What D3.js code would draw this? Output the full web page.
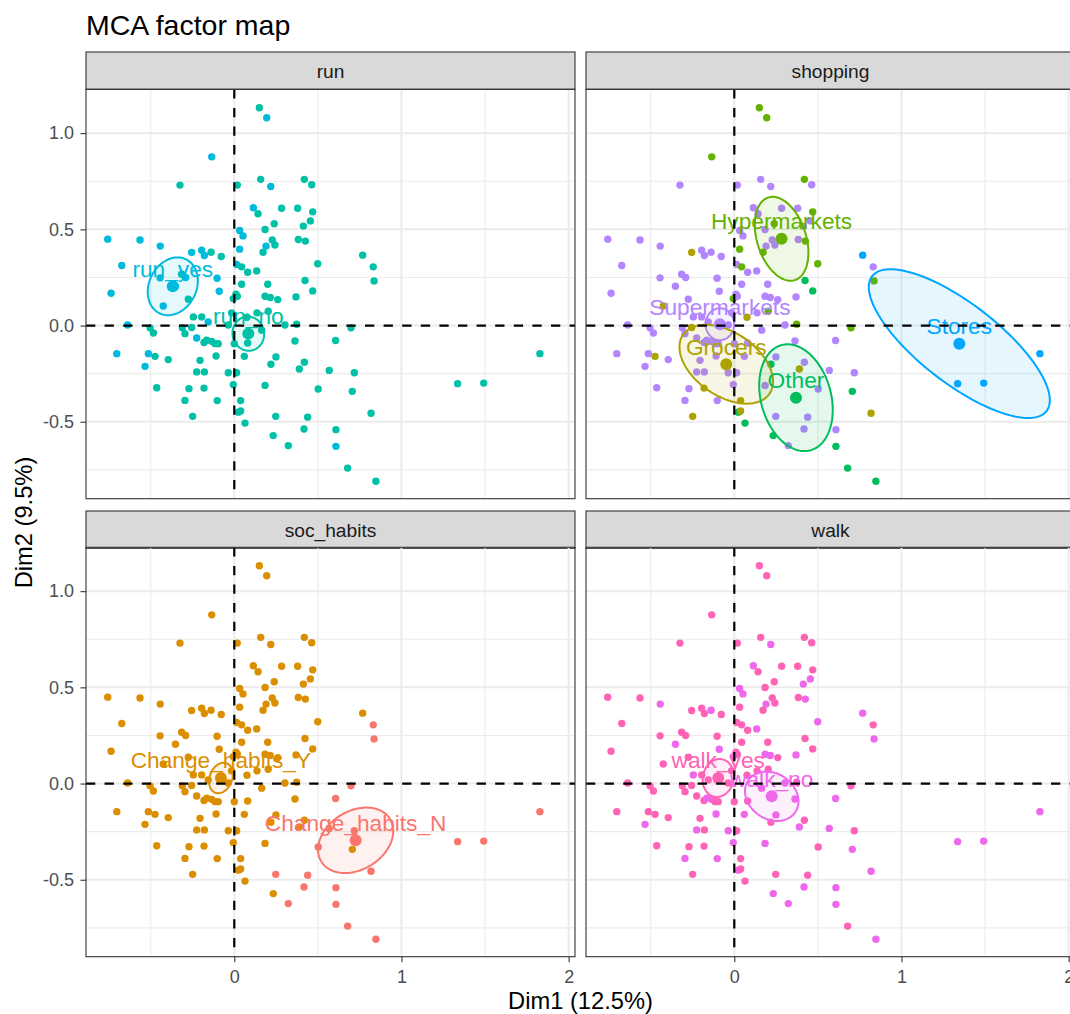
<!DOCTYPE html>
<html>
<head>
<meta charset="utf-8">
<script src="https://cdn.jsdelivr.net/npm/d3@7"></script>
<style>
  body { margin: 0; background: #fff; }
  text { font-family: "Liberation Sans", Arial, Helvetica, sans-serif; }
</style>
</head>
<body>
<div id="chart"></div>
<script>
// individual coordinates (Dim1, Dim2)
const dim1 = [
  0.150, 0.194, -0.135, -0.325, 0.018, 0.158, 0.218, 0.419, 0.463, 0.114,
  0.142, 0.283, 0.379, 0.469, 0.239, 0.184, 0.413, 0.455, -0.757, -0.564,
  -0.443, -0.255, -0.195, -0.179, -0.139, -0.078, 0.032, 0.052, 0.227, 0.243,
  0.190, 0.172, 0.383, 0.425, 0.032, 0.499, -0.673, 0.014, 0.044, 0.080,
  0.134, -0.315, -0.444, -0.291, -0.103, 0.044, 0.200, 0.423, 0.469, -0.737,
  -0.090, -0.352, 0.010, -0.425, -0.275, -0.006, 0.018, 0.184, 0.215, 0.260,
  0.369, -0.245, -0.195, -0.156, -0.036, -0.016, 0.136, 0.203, 0.076, 0.164,
  0.303, 0.373, -0.638, -0.504, -0.484, -0.311, -0.295, -0.255, -0.225, -0.181,
  -0.165, -0.135, -0.115, -0.096, 0.000, 0.080, 0.363, -0.703, -0.514, -0.474,
  -0.395, -0.534, -0.205, -0.109, 0.060, 0.249, 0.219, 0.419, 0.389, 0.568,
  -0.225, -0.179, -0.036, 0.014, -0.464, -0.271, -0.181, -0.006, 0.184, 0.502,
  -0.295, -0.102, 0.038, 0.024, 0.038, -0.249, 0.064, 0.248, 0.439, 0.233,
  0.417, 0.323, 0.768, 0.831, 0.836, 0.698, 0.606,
  0.718, 0.706, 0.818, 0.608, 0.608, 0.678, 0.847, 1.336, 1.492, 1.828
];
const dim2 = [
  1.132, 1.080, 0.877, 0.730, 0.730, 0.760, 0.723, 0.760, 0.732, 0.612,
  0.581, 0.610, 0.610, 0.591, 0.529, 0.499, 0.517, 0.544, 0.449, 0.445,
  0.413, 0.380, 0.392, 0.364, 0.381, 0.359, 0.494, 0.466, 0.445, 0.419,
  0.413, 0.381, 0.447, 0.439, 0.397, 0.321, 0.312, 0.317, 0.305, 0.277,
  0.284, 0.267, 0.248, 0.250, 0.246, 0.215, 0.215, 0.234, 0.180, 0.168,
  0.178, 0.204, 0.163, 0.102, 0.137, 0.140, 0.152, 0.152, 0.146, 0.135,
  0.149, 0.045, 0.045, 0.019, 0.003, 0.066, 0.066, 0.074, 0.043, -0.024,
  0.003, 0.007, 0.003, -0.012, -0.039, -0.012, -0.042, -0.010, -0.065, -0.088,
  -0.076, -0.082, -0.094, -0.094, -0.094, -0.091, -0.080, -0.146, -0.146, -0.160,
  -0.177, -0.212, -0.181, -0.158, -0.160, -0.163, -0.201, -0.191, -0.226, -0.233,
  -0.241, -0.241, -0.245, -0.245, -0.323, -0.328, -0.325, -0.307, -0.311, -0.330,
  -0.389, -0.390, -0.390, -0.450, -0.444, -0.472, -0.507, -0.472, -0.476, -0.572,
  -0.538, -0.624, 0.366, 0.305, 0.232, -0.012, -0.078,
  -0.245, -0.342, -0.456, -0.541, -0.628, -0.741, -0.809, -0.302, -0.299, -0.146
];

// answers of each individual
const run = [
  "no","yes","yes","no","no","no","yes","no","no","yes",
  "no","no","no","no","no","no","no","no","yes","yes",
  "yes","yes","yes","yes","no","no","yes","yes","no","no",
  "yes","no","no","no","yes","no","yes","yes","no","no",
  "no","no","yes","yes","yes","no","no","no","no","yes",
  "yes","yes","no","yes","no","no","no","no","no","no",
  "no","no","no","yes","no","no","no","no","no","no",
  "no","no","yes","no","no","no","no","no","yes","no",
  "no","no","no","no","no","no","no","yes","yes","no",
  "no","yes","no","no","no","no","no","no","no","no",
  "no","no","no","no","no","no","no","no","no","no",
  "no","no","no","no","no","no","no","no","no","no",
  "no","no","no","no","no","no","no",
  "no","no","no","no","yes","no","no","no","no","no"
];
const shopping = [
  "Hyp","Hyp","Hyp","Sup","Sup","Sup","Sup","Hyp","Sup","Sup",
  "Sup","Sup","Sup","Hyp","Hyp","Sup","Sup","Sup","Sup","Sup",
  "Sup","Gro","Sup","Sup","Sup","Sup","Sup","Sup","Sup","Sup",
  "Sup","Hyp","Sup","Hyp","Hyp","Hyp","Sup","Sup","Hyp","Sup",
  "Sup","Sup","Sup","Sup","Sup","Sup","Sup","Oth","Oth","Sup",
  "Sup","Sup","Sup","Gro","Sup","Hyp","Sup","Sup","Sup","Sup",
  "Sup","Sup","Sup","Sup","Sup","Sup","Sup","Hyp","Gro","Sup",
  "Sup","Hyp","Sup","Sup","Sup","Sup","Sup","Gro","Sup","Sup",
  "Sup","Sup","Sup","Sup","Sup","Sup","Sup","Sup","Sup","Gro",
  "Sup","Sup","Sup","Sup","Sup","Sup","Oth","Sup","Gro","Sup",
  "Sup","Sup","Sup","Sup","Sup","Sup","Gro","Sup","Sup","Sup",
  "Sup","Sup","Gro","Oth","Gro","Gro","Oth","Sup","Sup","Oth",
  "Sup","Sup","Sto","Sup","Hyp","Hyp","Sup",
  "Sup","Oth","Gro","Sup","Oth","Oth","Oth","Sto","Sto","Sto"
];
const socHabits = [
  "Y","Y","Y","Y","Y","Y","Y","Y","Y","Y",
  "Y","Y","Y","Y","Y","Y","Y","Y","Y","Y",
  "Y","Y","Y","Y","Y","Y","Y","Y","Y","Y",
  "Y","Y","Y","Y","Y","Y","Y","Y","Y","Y",
  "Y","Y","Y","Y","Y","Y","Y","Y","Y","Y",
  "Y","Y","Y","Y","Y","Y","Y","Y","Y","Y",
  "Y","Y","Y","Y","Y","Y","Y","Y","Y","Y",
  "Y","Y","Y","Y","Y","Y","Y","Y","Y","Y",
  "Y","Y","Y","Y","Y","Y","Y","Y","Y","Y",
  "Y","Y","Y","Y","Y","Y","Y","Y","Y","N",
  "Y","Y","Y","Y","Y","Y","Y","Y","Y","N",
  "Y","Y","Y","Y","Y","Y","Y","N","N","Y",
  "N","N","Y","N","N","N","N",
  "N","Y","N","N","N","N","N","N","N","N"
];
const walk = [
  "yes","yes","yes","yes","yes","yes","no","yes","yes","no",
  "yes","yes","yes","yes","yes","yes","no","no","yes","yes",
  "no","yes","yes","yes","no","yes","no","no","yes","yes",
  "no","yes","yes","no","yes","no","yes","yes","yes","yes",
  "no","yes","yes","yes","yes","yes","yes","yes","yes","yes",
  "no","no","yes","yes","yes","no","yes","no","no","yes",
  "no","no","yes","yes","yes","yes","yes","yes","yes","no",
  "no","yes","yes","yes","yes","yes","yes","yes","yes","yes",
  "no","no","yes","yes","yes","yes","no","yes","yes","yes",
  "yes","no","yes","no","no","no","yes","yes","no","no",
  "no","yes","no","yes","yes","yes","yes","no","no","yes",
  "no","no","yes","no","yes","yes","yes","yes","yes","no",
  "no","no","no","yes","no","yes","no",
  "yes","no","no","no","no","yes","no","no","no","no"
];

// category points (mean of each group)
const catNames = ["run_no", "run_yes", "Grocers", "Hypermarkets", "Other", "Stores", "Supermarkets",
  "Change_habits_Y", "Change_habits_N", "walk_yes", "walk_no"];
const catDim1 = [0.084, -0.368, -0.048, 0.283, 0.369, 1.346, -0.086, -0.080, 0.726, -0.096, 0.224];
const catDim2 = [-0.042, 0.204, -0.201, 0.451, -0.375, -0.094, 0.007, 0.029, -0.295, 0.029, -0.066];

const facetNames = ["run", "shopping", "soc_habits", "walk"];
const shopLabels = { Gro: "Grocers", Hyp: "Hypermarkets", Oth: "Other", Sto: "Stores", Sup: "Supermarkets" };
const facetLevel = [
  i => "run_" + run[i],
  i => shopLabels[shopping[i]],
  i => "Change_habits_" + socHabits[i],
  i => "walk_" + walk[i]
];

const xMajor = [0, 1, 2], xMinor = [-0.5, 0.5, 1.5];
const yMajor = [-0.5, 0, 0.5, 1.0], yMinor = [-0.75, -0.25, 0.25, 0.75];

// ggplot hue palette over all 11 levels (alphabetical)
const allLevels = ["Change_habits_N", "Change_habits_Y", "Grocers", "Hypermarkets", "Other",
  "run_no", "run_yes", "Stores", "Supermarkets", "walk_no", "walk_yes"];
const color = d3.scaleOrdinal()
  .domain(allLevels)
  .range(["#F8766D", "#DB8E00", "#AEA200", "#64B200", "#00BD5C", "#00C1A7",
          "#00BADE", "#00A6FF", "#B385FF", "#EF67EB", "#FF63B6"]);

const width = 1070, height = 1014;
const colX = [86, 586], panelW = 489;
const stripTop = [52, 511], stripH = 37.3;
const panelTop = [89.3, 547.3], panelH = 409.4;

const x = d3.scaleLinear().domain([-0.887, 2.038]).range([0, panelW]);
const y = d3.scaleLinear().domain([-0.900, 1.228]).range([panelH, 0]);

const svg = d3.select("#chart").append("svg")
  .attr("width", width)
  .attr("height", height)
  .style("display", "block");

svg.append("text")
  .attr("x", 86).attr("y", 34.5)
  .attr("font-size", 28.5)
  .attr("fill", "#000")
  .text("MCA factor map");

const tChi = Math.sqrt(-2 * Math.log(0.05)); // sqrt(qchisq(0.95, 2))

function confEllipse(idx, cx, cy) {
  const n = idx.length;
  const mx = d3.mean(idx, i => dim1[i]), my = d3.mean(idx, i => dim2[i]);
  let sxx = 0, syy = 0, sxy = 0;
  idx.forEach(i => {
    const dx = dim1[i] - mx, dy = dim2[i] - my;
    sxx += dx * dx; syy += dy * dy; sxy += dx * dy;
  });
  const a = sxx / (n - 1) / n, c = syy / (n - 1) / n, b = sxy / (n - 1) / n;
  const tr = (a + c) / 2, dd = Math.sqrt(((a - c) / 2) ** 2 + b * b);
  const l1 = tr + dd, l2 = Math.max(tr - dd, 0);
  const th = 0.5 * Math.atan2(2 * b, a - c);
  return d3.range(120).map(k => {
    const p = 2 * Math.PI * k / 120;
    const u = tChi * Math.sqrt(l1) * Math.cos(p), v = tChi * Math.sqrt(l2) * Math.sin(p);
    return [cx + u * Math.cos(th) - v * Math.sin(th), cy + u * Math.sin(th) + v * Math.cos(th)];
  });
}

const ellipseLine = d3.line()
  .x(d => x(d[0]))
  .y(d => y(d[1]))
  .curve(d3.curveLinearClosed);

const ids = d3.range(dim1.length);

facetNames.forEach((name, f) => {
  const col = f % 2, row = Math.floor(f / 2);
  const px = colX[col], py = panelTop[row];

  // strip
  const strip = svg.append("g").attr("transform", `translate(${px},${stripTop[row]})`);
  strip.append("rect")
    .attr("width", panelW).attr("height", stripH)
    .attr("fill", "#D9D9D9").attr("stroke", "#333333").attr("stroke-width", 1.1);
  strip.append("text")
    .attr("x", panelW / 2).attr("y", stripH / 2)
    .attr("dy", "0.38em")
    .attr("text-anchor", "middle")
    .attr("font-size", 19.2)
    .attr("fill", "#1A1A1A")
    .text(name);

  const g = svg.append("g").attr("transform", `translate(${px},${py})`);
  g.append("clipPath").attr("id", "clip" + f)
    .append("rect").attr("width", panelW).attr("height", panelH);

  const body = g.append("g").attr("clip-path", `url(#clip${f})`);

  // grid
  body.selectAll(".xminor").data(xMinor).enter().append("line")
    .attr("x1", d => x(d)).attr("x2", d => x(d)).attr("y1", 0).attr("y2", panelH)
    .attr("stroke", "#EBEBEB").attr("stroke-width", 1.1);
  body.selectAll(".yminor").data(yMinor).enter().append("line")
    .attr("y1", d => y(d)).attr("y2", d => y(d)).attr("x1", 0).attr("x2", panelW)
    .attr("stroke", "#EBEBEB").attr("stroke-width", 1.1);
  body.selectAll(".xmajor").data(xMajor).enter().append("line")
    .attr("x1", d => x(d)).attr("x2", d => x(d)).attr("y1", 0).attr("y2", panelH)
    .attr("stroke", "#EBEBEB").attr("stroke-width", 2);
  body.selectAll(".ymajor").data(yMajor).enter().append("line")
    .attr("y1", d => y(d)).attr("y2", d => y(d)).attr("x1", 0).attr("x2", panelW)
    .attr("stroke", "#EBEBEB").attr("stroke-width", 2);

  // individuals
  body.selectAll("circle.ind").data(ids).enter().append("circle")
    .attr("class", "ind")
    .attr("cx", i => x(dim1[i]))
    .attr("cy", i => y(dim2[i]))
    .attr("r", 3.7)
    .attr("fill", i => color(facetLevel[f](i)));

  // groups of this facet
  const levels = Array.from(new Set(ids.map(facetLevel[f])));
  const groups = levels.map(lv => {
    const k = catNames.indexOf(lv);
    return {
      level: lv,
      cx: catDim1[k], cy: catDim2[k],
      idx: ids.filter(i => facetLevel[f](i) === lv)
    };
  });

  body.selectAll("path.ell").data(groups).enter().append("path")
    .attr("class", "ell")
    .attr("d", d => ellipseLine(confEllipse(d.idx, d.cx, d.cy)))
    .attr("fill", d => color(d.level))
    .attr("fill-opacity", 0.1)
    .attr("stroke", d => color(d.level))
    .attr("stroke-width", 2);

  body.selectAll("circle.mean").data(groups).enter().append("circle")
    .attr("class", "mean")
    .attr("cx", d => x(d.cx))
    .attr("cy", d => y(d.cy))
    .attr("r", 6)
    .attr("fill", d => color(d.level));

  body.selectAll("text.lab").data(groups).enter().append("text")
    .attr("class", "lab")
    .attr("x", d => x(d.cx))
    .attr("y", d => y(d.cy) - 17.5)
    .attr("dy", "0.35em")
    .attr("text-anchor", "middle")
    .attr("font-size", 22.7)
    .attr("fill", d => color(d.level))
    .text(d => d.level);

  // axes lines through the origin
  body.append("line")
    .attr("x1", 0).attr("x2", panelW).attr("y1", y(0)).attr("y2", y(0))
    .attr("stroke", "#000").attr("stroke-width", 2.2).attr("stroke-dasharray", "9.3,9.3");
  body.append("line")
    .attr("x1", x(0)).attr("x2", x(0)).attr("y1", 0).attr("y2", panelH)
    .attr("stroke", "#000").attr("stroke-width", 2.2).attr("stroke-dasharray", "9.3,9.3");

  // border
  g.append("rect")
    .attr("width", panelW).attr("height", panelH)
    .attr("fill", "none").attr("stroke", "#333333").attr("stroke-width", 1.1);

  if (col === 0) {
    const ay = g.append("g")
      .call(d3.axisLeft(y).tickValues(yMajor).tickFormat(d => d.toFixed(1)).tickSize(5.5).tickPadding(6.5));
    ay.select(".domain").remove();
    ay.selectAll("line").attr("stroke", "#333333").attr("stroke-width", 1.1);
    ay.selectAll("text").attr("fill", "#4D4D4D").attr("font-size", 18)
      .attr("font-family", "Liberation Sans, Arial, Helvetica, sans-serif");
  }
  if (row === 1) {
    const ax = g.append("g").attr("transform", `translate(0,${panelH})`)
      .call(d3.axisBottom(x).tickValues(xMajor).tickFormat(d3.format("d")).tickSize(5.5).tickPadding(8.3));
    ax.select(".domain").remove();
    ax.selectAll("line").attr("stroke", "#333333").attr("stroke-width", 1.1);
    ax.selectAll("text").attr("fill", "#4D4D4D").attr("font-size", 18)
      .attr("font-family", "Liberation Sans, Arial, Helvetica, sans-serif");
  }
});

svg.append("text")
  .attr("x", 580.5).attr("y", 1008.5)
  .attr("text-anchor", "middle")
  .attr("font-size", 23.7)
  .attr("fill", "#000")
  .text("Dim1 (12.5%)");

svg.append("text")
  .attr("transform", "translate(32,522.5) rotate(-90)")
  .attr("text-anchor", "middle")
  .attr("font-size", 23.7)
  .attr("fill", "#000")
  .text("Dim2 (9.5%)");
</script>
</body>
</html>
